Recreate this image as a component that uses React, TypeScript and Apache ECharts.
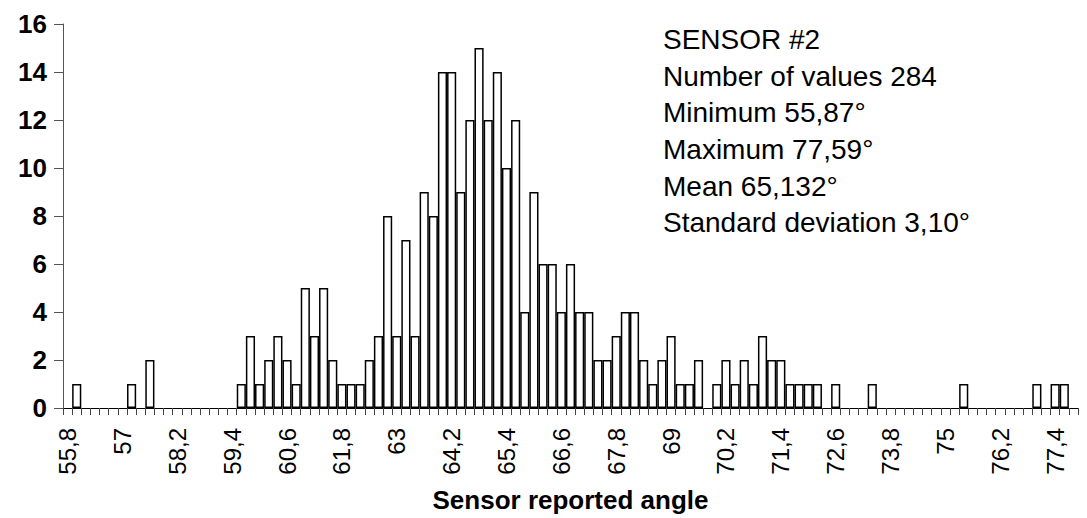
import React, { useEffect, useRef } from "react";
import * as echarts from "echarts";

const categories: string[] = [
  "55,8", "56", "56,2", "56,4", "56,6", "56,8", "57", "57,2", "57,4", "57,6",
  "57,8", "58", "58,2", "58,4", "58,6", "58,8", "59", "59,2", "59,4", "59,6",
  "59,8", "60", "60,2", "60,4", "60,6", "60,8", "61", "61,2", "61,4", "61,6",
  "61,8", "62", "62,2", "62,4", "62,6", "62,8", "63", "63,2", "63,4", "63,6",
  "63,8", "64", "64,2", "64,4", "64,6", "64,8", "65", "65,2", "65,4", "65,6",
  "65,8", "66", "66,2", "66,4", "66,6", "66,8", "67", "67,2", "67,4", "67,6",
  "67,8", "68", "68,2", "68,4", "68,6", "68,8", "69", "69,2", "69,4", "69,6",
  "69,8", "70", "70,2", "70,4", "70,6", "70,8", "71", "71,2", "71,4", "71,6",
  "71,8", "72", "72,2", "72,4", "72,6", "72,8", "73", "73,2", "73,4", "73,6",
  "73,8", "74", "74,2", "74,4", "74,6", "74,8", "75", "75,2", "75,4", "75,6",
  "75,8", "76", "76,2", "76,4", "76,6", "76,8", "77", "77,2", "77,4", "77,6",
  "77,8",
];

const counts: number[] = [
  0, 1, 0, 0, 0, 0, 0, 1, 0, 2,
  0, 0, 0, 0, 0, 0, 0, 0, 0, 1,
  3, 1, 2, 3, 2, 1, 5, 3, 5, 2,
  1, 1, 1, 2, 3, 8, 3, 7, 3, 9,
  8, 14, 14, 9, 12, 15, 12, 14, 10, 12,
  4, 9, 6, 6, 4, 6, 4, 4, 2, 2,
  3, 4, 4, 2, 1, 2, 3, 1, 1, 2,
  0, 1, 2, 1, 2, 1, 3, 2, 2, 1,
  1, 1, 1, 0, 1, 0, 0, 0, 1, 0,
  0, 0, 0, 0, 0, 0, 0, 0, 1, 0,
  0, 0, 0, 0, 0, 0, 1, 0, 1, 1,
  0,
];

const statsLines: string[] = [
  "SENSOR #2",
  "Number of values 284",
  "Minimum 55,87°",
  "Maximum 77,59°",
  "Mean 65,132°",
  "Standard deviation 3,10°",
];

const xAxisTitle = "Sensor reported angle";

export default function App() {
  const ref = useRef<HTMLDivElement>(null);
  useEffect(() => {
    if (!ref.current) return;
    const chart = echarts.init(ref.current, null, { renderer: "svg" });
    const font = "'Liberation Sans', Arial, sans-serif";
    chart.setOption({
      animation: false,
      backgroundColor: "#ffffff",
      textStyle: { fontFamily: font },
      grid: { left: 63, right: 9, top: 24, bottom: 108, containLabel: false },
      xAxis: {
        type: "category",
        data: categories,
        boundaryGap: true,
        name: xAxisTitle,
        nameLocation: "middle",
        nameGap: 79,
        nameTextStyle: { fontFamily: font, fontSize: 26, fontWeight: "bold", color: "#000" },
        axisLine: { show: true, lineStyle: { color: "#000", width: 1 } },
        axisTick: { show: true, interval: 0, length: 7, lineStyle: { color: "#444", width: 1 } },
        axisLabel: {
          interval: 5,
          rotate: 90,
          margin: 20,
          fontFamily: font,
          fontSize: 24,
          color: "#000",
        },
        splitLine: { show: false },
      },
      yAxis: {
        type: "value",
        min: 0,
        max: 16,
        interval: 2,
        axisLine: { show: true, lineStyle: { color: "#555", width: 1 } },
        axisTick: { show: true, length: 9, lineStyle: { color: "#555", width: 1 } },
        axisLabel: {
          margin: 16,
          fontFamily: font,
          fontSize: 26,
          fontWeight: "bold",
          color: "#000",
        },
        splitLine: { show: false },
      },
      series: [
        {
          type: "bar",
          data: counts.map((v) => (v === 0 ? null : v)),
          barCategoryGap: "0%",
          itemStyle: { color: "#ffffff", borderColor: "#000000", borderWidth: 1.5 },
          silent: true,
        },
      ],
      graphic: [
        {
          type: "text",
          left: 663,
          top: 21,
          style: {
            text: statsLines.join("\n"),
            fontFamily: font,
            fontSize: 28,
            lineHeight: 36.7,
            fill: "#000",
          },
        },
      ],
    });
    return () => chart.dispose();
  }, []);
  return <div ref={ref} style={{ width: 1087, height: 518, position: "absolute", left: 0, top: 0 }} />;
}
